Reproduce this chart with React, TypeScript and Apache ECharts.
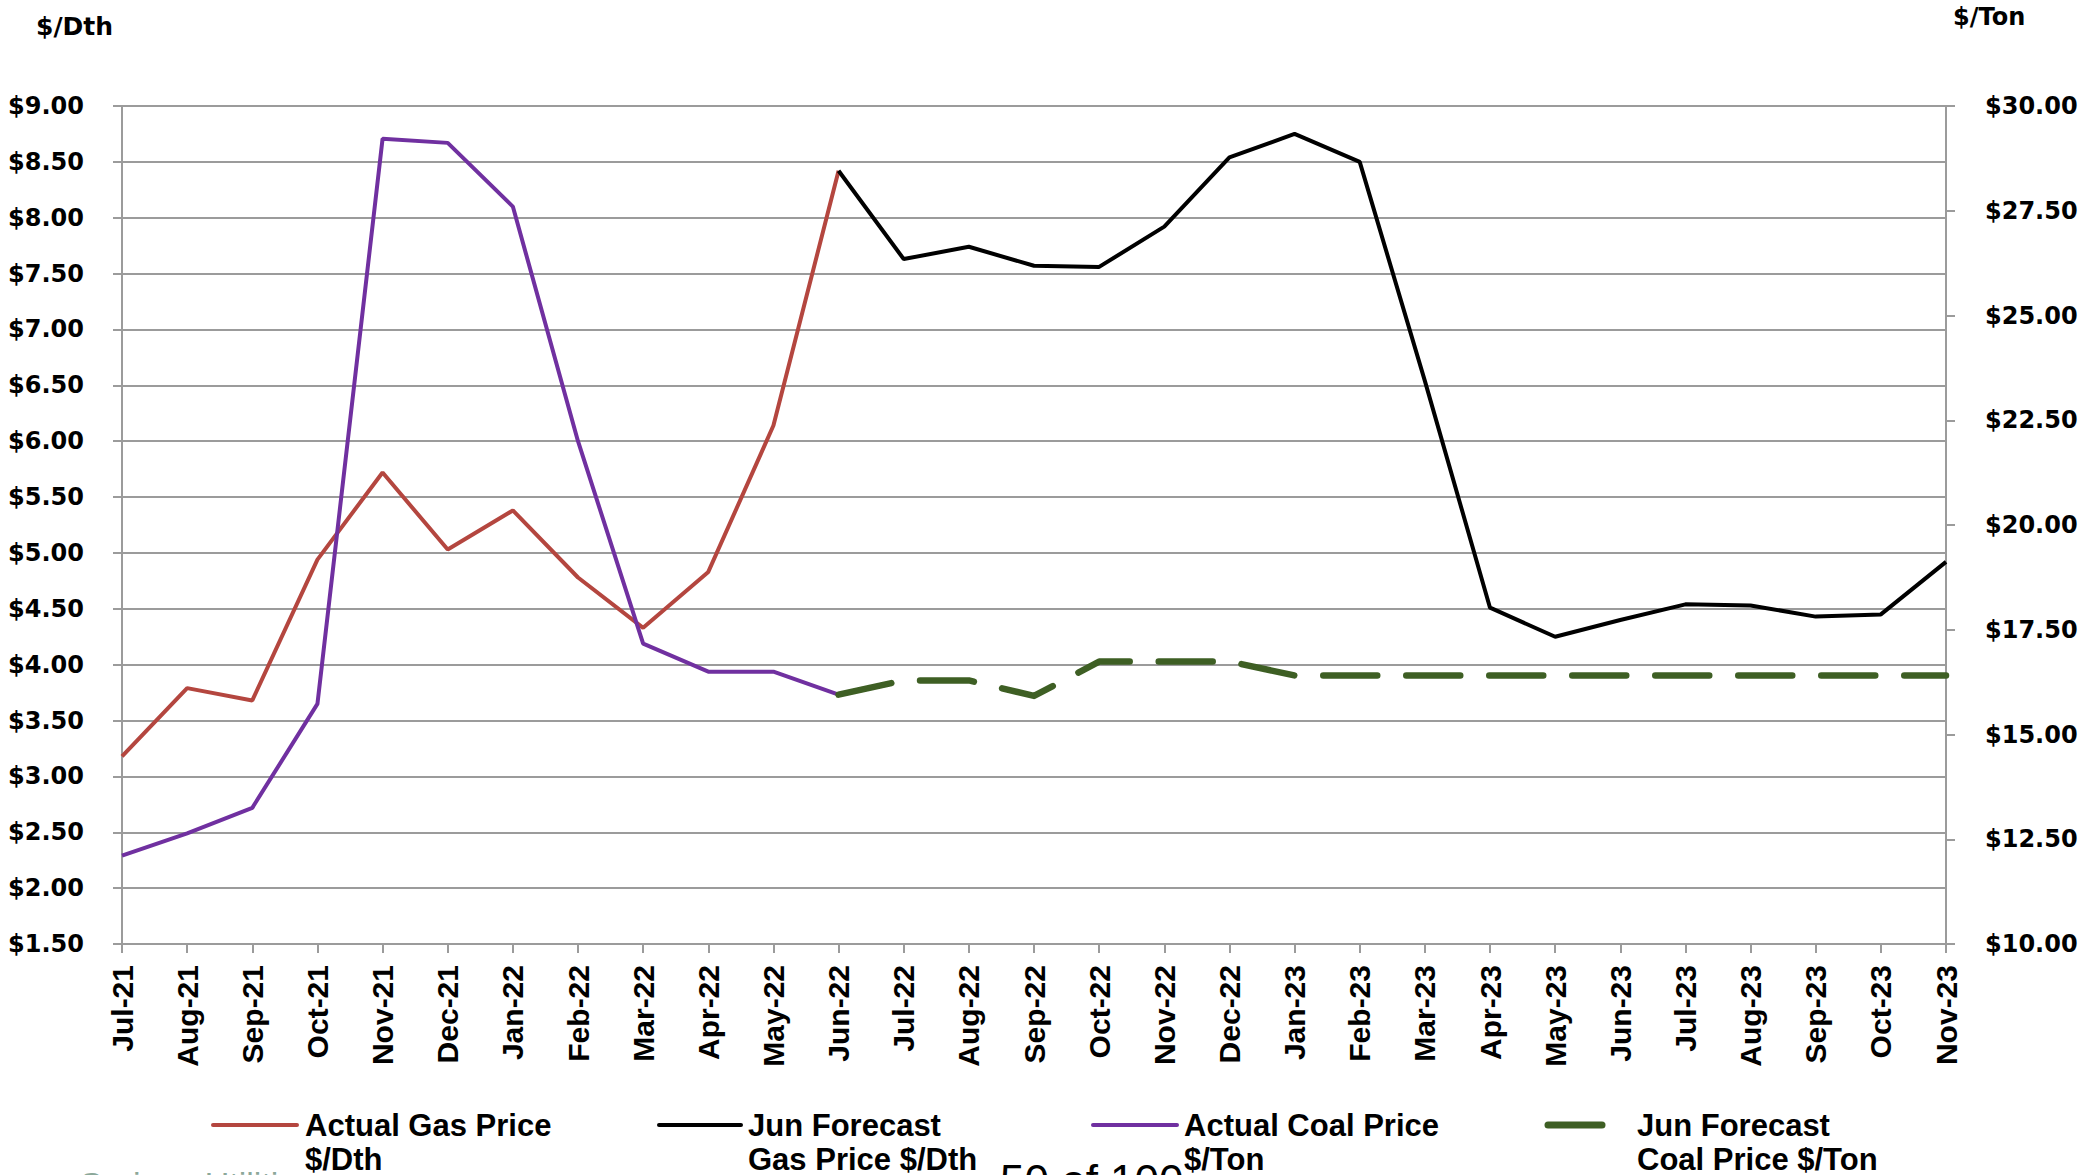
import React, { useEffect, useRef } from "react";
import * as echarts from "echarts";

const months = [
  "Jul-21", "Aug-21", "Sep-21", "Oct-21", "Nov-21", "Dec-21", "Jan-22", "Feb-22", "Mar-22", "Apr-22",
  "May-22", "Jun-22", "Jul-22", "Aug-22", "Sep-22", "Oct-22", "Nov-22", "Dec-22", "Jan-23", "Feb-23",
  "Mar-23", "Apr-23", "May-23", "Jun-23", "Jul-23", "Aug-23", "Sep-23", "Oct-23", "Nov-23",
];

// $/Dth (left axis)
const actualGas = [
  3.18, 3.79, 3.68, 4.94, 5.72, 5.03, 5.38, 4.78, 4.33, 4.83, 6.14, 8.42,
  null, null, null, null, null, null, null, null, null, null, null, null, null, null, null, null, null,
];
const forecastGas = [
  null, null, null, null, null, null, null, null, null, null, null,
  8.42, 7.63, 7.74, 7.57, 7.56, 7.92, 8.54, 8.75, 8.5, 6.54, 4.51, 4.25, 4.4, 4.54, 4.53, 4.43, 4.45, 4.92,
];

// $/Ton (right axis)
const actualCoal = [
  12.11, 12.64, 13.25, 15.73, 29.22, 29.12, 27.6, 22.0, 17.17, 16.5, 16.5, 15.95,
  null, null, null, null, null, null, null, null, null, null, null, null, null, null, null, null, null,
];
const forecastCoal = [
  null, null, null, null, null, null, null, null, null, null, null,
  15.95, 16.29, 16.29, 15.92, 16.74, 16.74, 16.74, 16.41, 16.41, 16.41, 16.41, 16.41, 16.41, 16.41, 16.41,
  16.41, 16.41, 16.41,
];

const seriesNames = [
  "Actual Gas Price\n$/Dth",
  "Jun Forecast\nGas Price $/Dth",
  "Actual Coal Price\n$/Ton",
  "Jun Forecast\nCoal Price $/Ton",
];

const RED = "#B4463F";
const BLACK = "#000000";
const PURPLE = "#7030A0";
const GREEN = "#3E5F24";
const GRID = "#9B9B9B";

export default function App() {
  const ref = useRef<HTMLDivElement>(null);

  useEffect(() => {
    if (!ref.current) return;
    const chart = echarts.init(ref.current, undefined, { renderer: "svg" });
    const axisFont = { fontFamily: "DejaVu Sans", fontWeight: "bold" as const, fontSize: 24, color: "#000" };
    const legendFont = "bold 31px 'Liberation Sans'";

    const legendItems = [
      { x1: 213, x2: 297, tx: 305, color: RED, width: 4, text: seriesNames[0] },
      { x1: 659, x2: 741, tx: 748, color: BLACK, width: 4, text: seriesNames[1] },
      { x1: 1093, x2: 1177, tx: 1184, color: PURPLE, width: 4, text: seriesNames[2] },
      { x1: 1548, x2: 1602, tx: 1637, color: GREEN, width: 7, text: seriesNames[3] },
    ];
    const legendGraphics: any[] = [];
    legendItems.forEach((it) => {
      legendGraphics.push({
        type: "line",
        shape: { x1: it.x1, y1: 1125, x2: it.x2, y2: 1125 },
        style: { stroke: it.color, lineWidth: it.width, lineCap: "round" },
      });
      legendGraphics.push({
        type: "text",
        x: it.tx,
        y: 1108,
        style: {
          text: it.text,
          font: legendFont,
          fill: "#000",
          lineHeight: 34,
          verticalAlign: "top",
          align: "left",
        },
      });
    });

    chart.setOption({
      animation: false,
      backgroundColor: "#fff",
      grid: { left: 122, right: 154, top: 106, bottom: 231, containLabel: false },
      xAxis: {
        type: "category",
        data: months,
        boundaryGap: false,
        axisLine: { lineStyle: { color: GRID, width: 2 } },
        axisTick: { show: true, length: 9, interval: 0, lineStyle: { color: GRID, width: 2 } },
        axisLabel: {
          interval: 0,
          rotate: 90,
          margin: 21,
          fontFamily: "Liberation Sans",
          fontWeight: "bold",
          fontSize: 30,
          color: "#000",
        },
        splitLine: { show: false },
      },
      yAxis: [
        {
          type: "value",
          min: 1.5,
          max: 9,
          interval: 0.5,
          position: "left",
          axisLine: { show: true, lineStyle: { color: GRID, width: 2 } },
          axisTick: { show: true, length: 9, lineStyle: { color: GRID, width: 2 } },
          axisLabel: { ...axisFont, margin: 38, formatter: (v: number) => "$" + v.toFixed(2) },
          splitLine: { show: true, lineStyle: { color: GRID, width: 2 } },
        },
        {
          type: "value",
          min: 10,
          max: 30,
          interval: 2.5,
          position: "right",
          axisLine: { show: true, lineStyle: { color: GRID, width: 2 } },
          axisTick: { show: true, length: 9, lineStyle: { color: GRID, width: 2 } },
          axisLabel: { ...axisFont, margin: 39, formatter: (v: number) => "$" + v.toFixed(2) },
          splitLine: { show: false },
        },
      ],
      series: [
        {
          name: seriesNames[0],
          type: "line",
          yAxisIndex: 0,
          data: actualGas,
          showSymbol: false,
          symbol: "none",
          lineStyle: { color: RED, width: 4 },
          itemStyle: { color: RED },
          z: 3,
        },
        {
          name: seriesNames[1],
          type: "line",
          yAxisIndex: 0,
          data: forecastGas,
          showSymbol: false,
          symbol: "none",
          lineStyle: { color: BLACK, width: 4 },
          itemStyle: { color: BLACK },
          z: 3,
        },
        {
          name: seriesNames[2],
          type: "line",
          yAxisIndex: 1,
          data: actualCoal,
          showSymbol: false,
          symbol: "none",
          lineStyle: { color: PURPLE, width: 4 },
          itemStyle: { color: PURPLE },
          z: 4,
        },
        {
          name: seriesNames[3],
          type: "line",
          yAxisIndex: 1,
          data: forecastCoal,
          showSymbol: false,
          symbol: "none",
          lineStyle: { color: GREEN, width: 6.5, type: [54, 29], cap: "round", join: "round" },
          itemStyle: { color: GREEN },
          z: 4,
        },
      ],
      legend: { show: false },
      graphic: [
        {
          type: "text",
          x: 36,
          y: 26,
          style: { text: "$/Dth", font: "bold 25px 'DejaVu Sans'", fill: "#000", verticalAlign: "middle" },
        },
        {
          type: "text",
          x: 1953,
          y: 17,
          style: { text: "$/Ton", font: "bold 24px 'DejaVu Sans'", fill: "#000", verticalAlign: "middle" },
        },
        {
          type: "text",
          x: 80,
          y: 1184,
          style: { text: "Springs Utilities", font: "34px 'Liberation Sans'", fill: "#8CA89A", verticalAlign: "middle" },
        },
        ...legendGraphics,
        {
          type: "text",
          x: 1000,
          y: 1180,
          style: { text: "50 of 100", font: "44px 'Liberation Sans'", fill: "#000", verticalAlign: "middle" },
        },
      ],
    });
    return () => chart.dispose();
  }, []);

  return (
    <div
      ref={ref}
      style={{ position: "fixed", left: 0, top: 0, width: 2100, height: 1175, background: "#fff" }}
    />
  );
}
